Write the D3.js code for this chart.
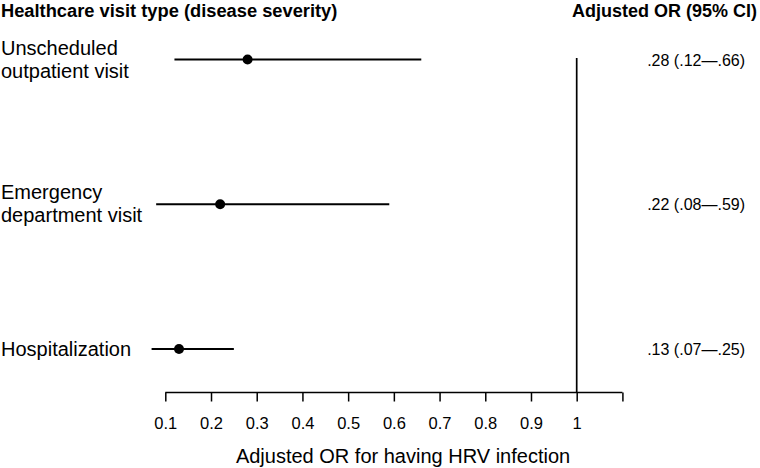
<!DOCTYPE html>
<meta charset="utf-8">

<script src="https://d3js.org/d3.v7.min.js"></script>

<style type="text/css">

body { margin: 0; background: #fff; }
svg text { font-family: "Liberation Sans", Arial, Helvetica, sans-serif; fill: #000; }
.axis path, .axis line { stroke: #000; stroke-width: 1.5px; }
.axis text { font-size: 16.5px; }

</style>

<body>
</body>

<script>

// data
var visitTypes = [["Unscheduled", "outpatient visit"], ["Emergency", "department visit"], ["Hospitalization"]];
var orValues = [0.28, 0.22, 0.13];
var ciLower = [0.12, 0.08, 0.07];
var ciUpper = [0.66, 0.59, 0.25];
var orLabels = [".28 (.12\u2014.66)", ".22 (.08\u2014.59)", ".13 (.07\u2014.25)"];
var tickValues = [0.1, 0.2, 0.3, 0.4, 0.5, 0.6, 0.7, 0.8, 0.9, 1, 1.1];

var width = 760;
var height = 468;

var svg = d3.select("body").append("svg")
  .attr("width", width)
  .attr("height", height);

var rows = visitTypes.map(function(d, i) {
  return {label: d, or: orValues[i], lo: ciLower[i], hi: ciUpper[i], text: orLabels[i]};
});

// scales
var xScale = d3.scaleLinear()
  .domain([0.1, 1])
  .range([165.3, 576.7]);

var yScale = d3.scalePoint()
  .domain(d3.range(rows.length))
  .range([59.5, 349]);

var axisY = 392.5;

// headers
svg.append("text")
  .attr("x", 1)
  .attr("y", 17)
  .style("font-size", "18.3px")
  .style("font-weight", "bold")
  .text("Healthcare visit type (disease severity)");

svg.append("text")
  .attr("x", 757)
  .attr("y", 17)
  .attr("text-anchor", "end")
  .style("font-size", "18px")
  .style("font-weight", "bold")
  .text("Adjusted OR (95% CI)");

// x axis
var xAxis = d3.axisBottom(xScale)
  .tickValues(tickValues)
  .tickSize(9)
  .tickSizeOuter(0)
  .tickPadding(16)
  .tickFormat(function(d) { return d > 1.05 ? "" : d3.format("~g")(d); });

var xAxisGroup = svg.append("g")
  .attr("class", "x axis")
  .attr("transform", "translate(0," + axisY + ")")
  .call(xAxis);

xAxisGroup.select(".domain").attr("d", "M" + xScale(0.1) + ",0H" + xScale(1.1));

svg.append("text")
  .attr("x", 403)
  .attr("y", 463)
  .attr("text-anchor", "middle")
  .style("font-size", "20px")
  .text("Adjusted OR for having HRV infection");

// reference line at OR = 1
svg.append("line")
  .attr("x1", xScale(1))
  .attr("x2", xScale(1))
  .attr("y1", 58)
  .attr("y2", axisY)
  .style("stroke", "#000")
  .style("stroke-width", 1.7);

var row = svg.selectAll(".row")
  .data(rows)
  .enter().append("g")
  .attr("class", "row")
  .attr("transform", function(d, i) { return "translate(0," + yScale(i) + ")"; });

// row labels
row.append("text")
  .attr("x", 1)
  .style("font-size", "20px")
  .each(function(d) {
    var t = d3.select(this);
    var start = d.label.length == 1 ? 7 : -5;
    d.label.forEach(function(s, j) {
      t.append("tspan").attr("x", 1).attr("y", start + j * 23).text(s);
    });
  });

// CI lines
row.append("line")
  .attr("x1", function(d) { return xScale(d.lo); })
  .attr("x2", function(d) { return xScale(d.hi); })
  .style("stroke", "#000")
  .style("stroke-width", 2);

// points
row.append("circle")
  .attr("cx", function(d) { return xScale(d.or); })
  .attr("r", 5)
  .style("fill", "#000");

// OR text
row.append("text")
  .attr("x", 745)
  .attr("y", 6)
  .attr("text-anchor", "end")
  .style("font-size", "16px")
  .text(function(d) { return d.text; });

</script>
